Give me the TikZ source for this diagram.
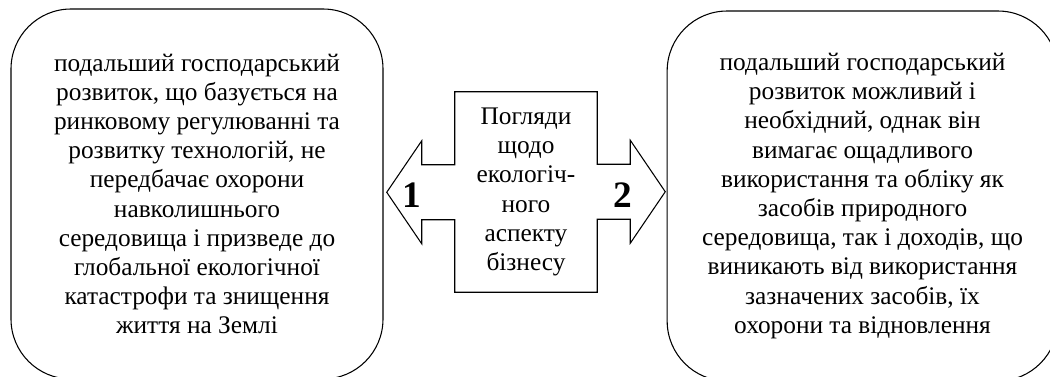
\documentclass[tikz,border=0pt]{standalone}
\usepackage{fontspec}
\setmainfont{Liberation Serif}
\newfontfamily\uaserif{Liberation Serif}
\usetikzlibrary{positioning, calc}

\begin{document}
\begin{tikzpicture}[
    x=0.75pt, y=-0.75pt,
    view/.style={rectangle, rounded corners=45pt, draw=black, line width=0.8pt, fill=white, align=center, inner sep=0pt, minimum height=277.5pt, font=\uaserif\fontsize{19pt}{21.9pt}\selectfont},
    topic/.style={rectangle, inner sep=0pt, minimum width=106.5pt, minimum height=150pt, align=center, font=\uaserif\fontsize{19pt}{21.9pt}\selectfont},
    num/.style={inner sep=0pt, font=\uaserif\fontsize{28pt}{30pt}\selectfont\bfseries},
    outline/.style={draw=black, line width=0.8pt, fill=white, line join=miter}
]
\useasboundingbox (0,0) rectangle (1050,376);

% Two views
\node (pessimist) [view, minimum width=279pt] at (197,194) {подальший господарський\\розвиток, що базується на\\ринковому регулюванні та\\розвитку технологій, не\\передбачає охорони\\навколишнього\\середовища і призведе до\\глобальної екологічної\\катастрофи та знищення\\життя на Землі};
\node (optimist) [view, minimum width=293pt] at (862.5,196) {подальший господарський\\розвиток можливий і\\необхідний, однак він\\вимагає ощадливого\\використання та обліку як\\засобів природного\\середовища, так і доходів, що\\виникають від використання\\зазначених засобів, їх\\охорони та відновлення};

% Central double arrow
\node (topic) [topic] at (526,192) {};
\draw [outline] (topic.north west) -- (topic.north east) -- ++(0,72.5) -- ++(33,0) -- ++(0,-24)
    -- ++(35,51.5) -- ++(-35,51.5) -- ++(0,-24) -- ++(-33,0) -- (topic.south east)
    -- (topic.south west) -- ++(0,-72.5) -- ++(-33,0) -- ++(0,24)
    -- ++(-35,-51.5) -- ++(35,-51.5) -- ++(0,24) -- ++(33,0) -- cycle;
\node [topic] at (topic) {Погляди\\щодо\\екологіч-\\ного\\аспекту\\бізнесу};

% Numbers
\node (one) [num] at (412,195) {1};
\node (two) [num] at (623,195) {2};

\end{tikzpicture}
\end{document}
